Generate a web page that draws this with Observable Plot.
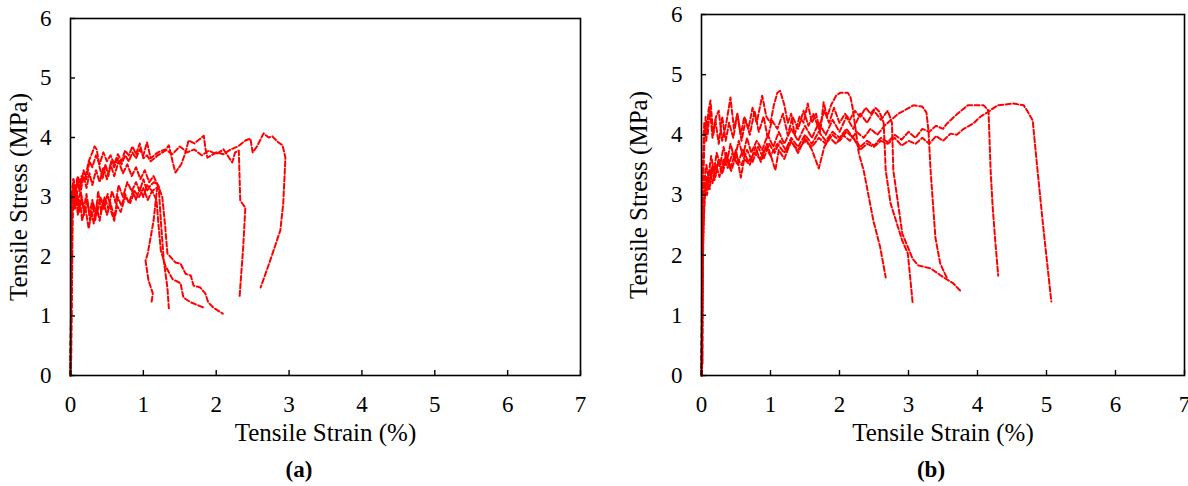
<!DOCTYPE html>
<html>
<head>
<meta charset="utf-8">
<script src="https://cdn.jsdelivr.net/npm/d3@7"></script>
<script src="https://cdn.jsdelivr.net/npm/@observablehq/plot@0.6"></script>
<style>
  html, body { margin: 0; padding: 0; background: #fff; }
  #wrap { position: relative; width: 1188px; height: 486px; overflow: hidden; font-family: "Liberation Serif", "Times New Roman", serif; }
  .panel { position: absolute; top: 0; }
  .cap { position: absolute; top: 457px; font-weight: bold; font-size: 23px; transform: translateX(-50%); color: #000; }
  #wrap svg, #wrap svg g, #wrap svg text { font-family: "Liberation Serif", "Times New Roman", serif !important; font-variant: normal !important; }
</style>
</head>
<body>
<div id="wrap">
  <div class="panel" id="pa" style="left:0px"></div>
  <div class="panel" id="pb" style="left:594px"></div>
  <div class="cap" style="left:299px">(a)</div>
  <div class="cap" style="left:931px">(b)</div>
</div>
<script>
// ---- tick labels / axis titles ----
const xTicks = [0, 1, 2, 3, 4, 5, 6, 7];
const yTicks = [0, 1, 2, 3, 4, 5, 6];
const xTitle = "Tensile Strain (%)";
const yTitle = "Tensile Stress (MPa)";

// ---- panel (a) specimens: [strain %, stress MPa] ----
const a1 = [[0,0],[0.01,0.3],[0.02,1.5],[0.03,2.6],[0.04,3.1],[0.06,2.8],[0.08,3.0],[0.1,2.7],[0.13,2.95],[0.16,2.6],[0.2,2.85],[0.25,2.47],[0.29,2.75],[0.32,2.55],[0.36,2.85],[0.4,2.6],[0.45,2.95],[0.5,2.7],[0.55,2.9],[0.6,2.65],[0.65,3.0],[0.7,2.85],[0.75,3.05],[0.8,2.9],[0.86,3.1],[0.9,2.95],[0.95,3.15],[1.0,3.0],[1.05,3.2],[1.12,3.1],[1.19,3.16],[1.14,2.6],[1.06,2.05],[1.03,1.93],[1.07,1.6],[1.13,1.38],[1.11,1.21]];
const a2 = [[0,0],[0.01,1.0],[0.02,2.4],[0.03,3.0],[0.05,2.85],[0.07,3.2],[0.1,2.9],[0.14,3.1],[0.18,2.8],[0.22,3.05],[0.26,2.7],[0.3,2.95],[0.34,2.6],[0.38,3.1],[0.42,2.75],[0.47,3.0],[0.52,2.8],[0.57,3.1],[0.62,2.9],[0.66,3.2],[0.72,3.0],[0.78,3.25],[0.84,3.1],[0.9,3.25],[0.95,3.1],[1.0,3.3],[1.05,3.1],[1.1,3.2],[1.15,3.25],[1.21,3.18],[1.24,2.6],[1.26,2.27],[1.28,1.93],[1.33,1.48],[1.35,1.13]];
const a3 = [[0,0],[0.01,1.4],[0.02,2.8],[0.04,3.2],[0.06,2.9],[0.09,3.1],[0.12,2.75],[0.15,3.0],[0.19,2.7],[0.23,2.95],[0.27,2.6],[0.31,2.9],[0.36,2.7],[0.41,3.0],[0.46,2.8],[0.51,3.05],[0.56,2.75],[0.6,2.6],[0.64,2.85],[0.69,2.75],[0.75,3.0],[0.82,2.9],[0.88,3.1],[0.94,3.0],[1.0,3.15],[1.06,2.95],[1.12,3.1],[1.18,2.95],[1.21,2.5],[1.24,2.1],[1.3,1.85],[1.4,1.62],[1.51,1.55],[1.55,1.31],[1.65,1.23],[1.83,1.14]];
const a4 = [[0,0],[0.01,1.6],[0.02,3.0],[0.04,3.3],[0.07,3.05],[0.1,3.3],[0.14,3.1],[0.18,3.35],[0.22,3.15],[0.26,3.4],[0.3,3.2],[0.35,3.45],[0.4,3.25],[0.45,3.5],[0.5,3.3],[0.55,3.55],[0.6,3.35],[0.66,3.6],[0.72,3.4],[0.78,3.55],[0.84,3.35],[0.9,3.5],[0.96,3.3],[1.02,3.45],[1.08,3.25],[1.14,3.35],[1.2,3.2],[1.26,3.0],[1.3,2.5],[1.33,2.05],[1.44,1.9],[1.51,1.88],[1.58,1.71],[1.65,1.68],[1.69,1.51],[1.78,1.48],[1.85,1.38],[1.89,1.23],[1.96,1.14],[2.09,1.04]];
const a5 = [[0,0],[0.01,1.2],[0.02,2.7],[0.03,3.2],[0.06,3.0],[0.09,3.3],[0.12,3.1],[0.15,3.35],[0.2,3.3],[0.25,3.6],[0.3,3.75],[0.33,3.85],[0.36,3.8],[0.4,3.5],[0.44,3.3],[0.48,3.55],[0.52,3.35],[0.56,3.6],[0.6,3.5],[0.65,3.65],[0.7,3.55],[0.75,3.7],[0.8,3.6],[0.85,3.75],[0.9,3.65],[0.95,3.8],[1.0,3.7],[1.05,3.92],[1.1,3.65],[1.2,3.75],[1.3,3.8],[1.4,3.72],[1.5,3.85],[1.6,3.75],[1.7,3.8],[1.8,3.7],[1.9,3.78],[2.0,3.72],[2.1,3.8],[2.22,3.58],[2.26,3.75],[2.31,3.78],[2.33,2.94],[2.4,2.82],[2.37,2.15],[2.32,1.31]];
const a6 = [[0,0],[0.005,0.35],[0.01,1.8],[0.02,2.9],[0.04,3.3],[0.07,3.1],[0.1,3.35],[0.14,3.2],[0.18,3.45],[0.22,3.3],[0.26,3.6],[0.3,3.5],[0.35,3.7],[0.4,3.55],[0.45,3.75],[0.5,3.6],[0.55,3.7],[0.6,3.55],[0.65,3.72],[0.7,3.6],[0.75,3.78],[0.8,3.7],[0.85,3.85],[0.9,3.72],[0.95,3.9],[1.0,3.65],[1.05,3.7],[1.1,3.6],[1.2,3.7],[1.3,3.78],[1.35,3.87],[1.4,3.6],[1.44,3.41],[1.52,3.55],[1.58,3.75],[1.62,3.95],[1.7,3.9],[1.83,4.03],[1.85,3.83],[1.88,3.66],[2.0,3.75],[2.1,3.72],[2.2,3.8],[2.3,3.85],[2.4,3.95],[2.47,3.98],[2.5,3.75],[2.56,3.85],[2.65,4.07],[2.72,4.0],[2.77,4.02],[2.85,3.92],[2.91,3.87],[2.95,3.66],[2.92,2.89],[2.88,2.44],[2.74,1.93],[2.61,1.48]];

// ---- panel (b) specimens: [strain %, stress MPa] ----
const b1 = [[0,0],[0.01,2.0],[0.02,3.5],[0.04,4.2],[0.07,3.9],[0.1,4.4],[0.13,4.57],[0.17,4.0],[0.21,4.3],[0.25,4.4],[0.3,3.9],[0.36,4.2],[0.42,4.62],[0.47,4.1],[0.52,4.35],[0.57,4.0],[0.62,4.3],[0.68,4.1],[0.74,4.45],[0.8,4.2],[0.88,4.65],[0.94,4.3],[1.0,4.2],[1.05,4.5],[1.1,4.7],[1.14,4.73],[1.2,4.5],[1.25,4.2],[1.3,4.35],[1.35,4.0],[1.42,4.3],[1.48,4.2],[1.54,4.52],[1.6,4.2],[1.66,4.35],[1.72,4.05],[1.77,4.54],[1.82,4.3],[1.88,4.5],[1.95,4.65],[2.01,4.7],[2.12,4.7],[2.16,4.62],[2.19,4.45],[2.23,4.12],[2.28,3.69],[2.35,3.41],[2.49,2.58],[2.59,2.13],[2.67,1.63]];
const b2 = [[0,0],[0.01,1.5],[0.02,3.0],[0.04,3.8],[0.06,4.3],[0.09,4.0],[0.12,4.45],[0.16,3.95],[0.2,4.25],[0.25,3.85],[0.3,4.3],[0.35,3.9],[0.4,4.2],[0.46,3.95],[0.52,4.35],[0.58,3.9],[0.64,4.25],[0.7,4.0],[0.77,4.4],[0.83,4.05],[0.9,4.3],[0.96,3.95],[1.02,4.24],[1.1,4.1],[1.18,4.35],[1.25,4.0],[1.32,4.3],[1.4,4.1],[1.48,4.4],[1.55,4.15],[1.62,4.35],[1.7,4.1],[1.78,4.4],[1.85,4.2],[1.92,4.45],[2.0,4.2],[2.08,4.35],[2.15,4.25],[2.22,4.4],[2.3,4.3],[2.38,4.45],[2.45,4.35],[2.52,4.45],[2.58,4.38],[2.64,4.2],[2.67,3.41],[2.74,2.86],[2.91,2.24],[2.99,2.03],[3.06,1.21]];
const b3 = [[0,0],[0.01,1.2],[0.02,2.6],[0.04,3.2],[0.07,3.5],[0.1,3.3],[0.14,3.65],[0.18,3.4],[0.22,3.7],[0.27,3.5],[0.32,3.8],[0.37,3.55],[0.42,3.85],[0.48,3.6],[0.54,3.9],[0.6,3.65],[0.66,3.95],[0.72,3.7],[0.8,3.9],[0.88,3.75],[0.96,4.0],[1.04,3.8],[1.12,4.05],[1.2,3.85],[1.3,4.1],[1.4,3.9],[1.5,4.15],[1.6,3.95],[1.7,4.2],[1.8,4.0],[1.9,4.25],[2.0,4.05],[2.1,4.3],[2.2,4.1],[2.3,4.35],[2.4,4.2],[2.5,4.4],[2.6,4.25],[2.7,4.4],[2.76,4.2],[2.78,3.41],[2.91,2.36],[3.06,1.94],[3.14,1.83],[3.32,1.78],[3.51,1.63],[3.65,1.53],[3.75,1.41]];
const b4 = [[0,0],[0.01,0.6],[0.015,0.2],[0.02,1.8],[0.03,2.5],[0.05,3.0],[0.08,3.3],[0.12,3.1],[0.16,3.5],[0.2,3.3],[0.25,3.6],[0.3,3.4],[0.36,3.7],[0.42,3.45],[0.5,3.75],[0.57,3.29],[0.62,3.6],[0.7,3.5],[0.78,3.8],[0.86,3.55],[0.95,3.85],[1.02,3.6],[1.07,3.41],[1.12,3.75],[1.2,3.6],[1.3,3.9],[1.4,3.7],[1.5,3.95],[1.6,3.75],[1.7,3.44],[1.78,3.8],[1.86,3.95],[1.95,3.85],[2.05,4.0],[2.15,3.9],[2.25,4.05],[2.35,3.95],[2.45,4.1],[2.55,4.0],[2.65,4.15],[2.75,4.25],[2.85,4.35],[2.93,4.4],[3.07,4.49],[3.2,4.47],[3.26,4.37],[3.29,4.07],[3.32,3.41],[3.39,2.29],[3.46,1.86],[3.56,1.61]];
const b5 = [[0,0],[0.01,1.0],[0.02,2.2],[0.04,2.9],[0.07,3.3],[0.1,3.1],[0.14,3.45],[0.19,3.25],[0.24,3.55],[0.3,3.35],[0.36,3.6],[0.43,3.4],[0.5,3.65],[0.58,3.5],[0.66,3.75],[0.74,3.55],[0.82,3.8],[0.9,3.6],[0.98,3.85],[1.06,3.7],[1.14,3.9],[1.22,3.75],[1.3,3.95],[1.4,3.8],[1.5,4.0],[1.6,3.85],[1.7,4.05],[1.8,3.9],[1.9,4.05],[2.0,3.95],[2.1,4.1],[2.2,3.95],[2.3,3.8],[2.4,3.9],[2.5,3.82],[2.6,3.95],[2.7,3.88],[2.8,4.0],[2.9,3.92],[3.0,4.05],[3.1,3.95],[3.2,4.1],[3.3,4.05],[3.4,4.15],[3.5,4.1],[3.56,4.19],[3.71,4.35],[3.86,4.49],[4.09,4.49],[4.16,4.4],[4.19,3.41],[4.22,2.8],[4.26,2.2],[4.3,1.66]];
const b6 = [[0,0],[0.01,0.8],[0.02,2.0],[0.03,2.8],[0.05,3.2],[0.08,3.0],[0.12,3.4],[0.16,3.2],[0.21,3.5],[0.26,3.3],[0.32,3.6],[0.38,3.45],[0.45,3.7],[0.52,3.5],[0.6,3.75],[0.68,3.55],[0.76,3.7],[0.85,3.6],[0.93,3.8],[1.0,3.65],[1.1,3.85],[1.2,3.7],[1.3,3.88],[1.4,3.75],[1.5,3.9],[1.6,3.8],[1.7,3.95],[1.8,3.85],[1.9,4.0],[2.0,3.9],[2.1,4.05],[2.2,3.95],[2.3,3.75],[2.4,3.85],[2.5,3.8],[2.6,3.9],[2.7,3.85],[2.8,3.95],[2.9,3.82],[3.0,3.9],[3.1,3.85],[3.2,3.95],[3.3,3.85],[3.4,3.98],[3.5,3.9],[3.61,4.02],[3.7,4.0],[3.8,4.1],[3.94,4.19],[4.04,4.3],[4.14,4.37],[4.29,4.49],[4.52,4.52],[4.67,4.49],[4.72,4.4],[4.8,4.24],[4.87,3.41],[4.95,2.5],[5.07,1.23]];

const seriesA = [a1, a2, a3, a4, a5, a6];
const seriesB = [b1, b2, b3, b4, b5, b6];

function rows(series) {
  const out = [];
  series.forEach((s, i) => s.forEach(([x, y]) => out.push({id: i, x, y})));
  return out;
}

const FONT = '"Liberation Serif", "Times New Roman", serif';

function panel(series, {marginLeft, marginRight, marginTop, titleDx}) {
  return Plot.plot({
    width: 594,
    height: 450,
    marginLeft, marginRight, marginTop,
    marginBottom: 75,
    style: {fontFamily: FONT, fontSize: "23px", color: "#000", background: "transparent"},
    x: {domain: [0, 7], ticks: xTicks, tickFormat: d3.format("d")},
    y: {domain: [0, 6], ticks: yTicks, tickFormat: d3.format("d")},
    marks: [
      Plot.line(rows(series), {x: "x", y: "y", z: "id", stroke: "#ff0000", strokeWidth: 2, strokeDasharray: "5,2.5"}),
      Plot.frame({stroke: "#000", strokeWidth: 1.6}),
      Plot.axisX({ticks: xTicks, tickFormat: d3.format("d"), tickSize: -5, tickPadding: 25, strokeWidth: 1.4, label: null, fontSize: 23, fontFamily: FONT}),
      Plot.axisY({ticks: yTicks, tickFormat: d3.format("d"), tickSize: -5, tickPadding: 24, strokeWidth: 1.4, label: null, fontSize: 23, fontFamily: FONT}),
      Plot.text([xTitle], {frameAnchor: "bottom", dy: 57, fontSize: 25, fontFamily: FONT, lineAnchor: "middle", textAnchor: "middle", fill: "#000"}),
      Plot.text([yTitle], {frameAnchor: "left", dx: titleDx, rotate: -90, fontSize: 25, fontFamily: FONT, lineAnchor: "middle", textAnchor: "middle", fill: "#000"})
    ]
  });
}

document.getElementById("pa").appendChild(panel(seriesA, {marginLeft: 70, marginRight: 14, marginTop: 18, titleDx: -52}));
document.getElementById("pb").appendChild(panel(seriesB, {marginLeft: 107, marginRight: 4, marginTop: 14, titleDx: -63}));
</script>
</body>
</html>
